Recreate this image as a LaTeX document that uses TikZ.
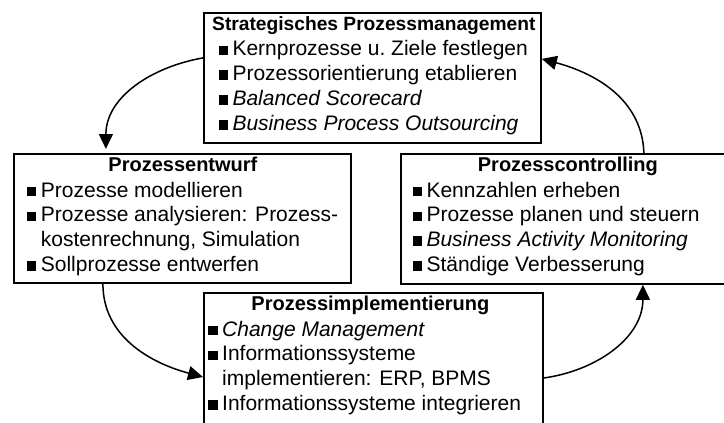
\documentclass[tikz,border=0pt]{standalone}
\usepackage{fontspec}
\setmainfont{Liberation Sans}
\usetikzlibrary{arrows.meta}
% square list marker followed by a small gap (a kern, so the cell keeps it)
\newcommand{\blt}{\rule[0.8pt]{9.5pt}{9.5pt}\kern4.5pt}
\begin{document}
\begin{tikzpicture}[x=1pt,y=-1pt,
  box/.style={draw, line width=1.8pt, rectangle, inner sep=0pt, anchor=north west},
  ttl/.style={anchor=base, inner sep=0pt, font=\fontsize{20}{24.8}\selectfont\bfseries},
  items/.style={anchor=base west, inner sep=0pt, align=left, font=\fontsize{21}{24.8}\selectfont},
  flow/.style={line width=1.5pt, -{Triangle[length=15pt,width=14pt]}}]
\fill[white] (0,0) rectangle (724,423);
\useasboundingbox (0,0) rectangle (724,423);

% the four phase boxes
\node[box, minimum width=337pt, minimum height=130pt] (strat) at (203,12) {};
\node[box, minimum width=337pt, minimum height=129pt] (entw) at (13,153) {};
\node[box, minimum width=334pt, minimum height=130pt] (contr) at (400,153) {};
\node[box, minimum width=339pt, minimum height=145pt] (impl) at (203,292) {};

% headings
\node[ttl, font=\fontsize{19.2}{24.8}\selectfont\bfseries] (stratT) at ([xshift=1.5pt,yshift=-18.5pt]strat.north) {Strategisches Prozessmanagement};
\node[ttl] (entwT) at ([xshift=0.5pt,yshift=-18.5pt]entw.north) {Prozessentwurf};
\node[ttl] (contrT) at ([yshift=-18.5pt]contr.north) {Prozesscontrolling};
\node[ttl] (implT) at ([xshift=-3pt,yshift=-18.5pt]impl.north) {Prozessimplementierung};

% bullet lists
\node[items] (stratL) at ([xshift=15.3pt,yshift=-44pt]strat.north west)
  {\begin{tabular}[t]{@{}l@{}l@{}}
   \blt & Kernprozesse u.\ Ziele festlegen\\
   \blt & Prozessorientierung etablieren\\
   \blt & \textit{Balanced Scorecard}\\
   \blt & \textit{Business Process Outsourcing}
   \end{tabular}};
\node[items] (entwL) at ([xshift=13.7pt,yshift=-44pt]entw.north west)
  {\begin{tabular}[t]{@{}l@{}l@{}}
   \blt & Prozesse modellieren\\
   \blt & Prozesse analysieren: Prozess-\\
        & kostenrechnung, Simulation\\
   \blt & Sollprozesse entwerfen
   \end{tabular}};
\node[items] (contrL) at ([xshift=12.3pt,yshift=-44pt]contr.north west)
  {\begin{tabular}[t]{@{}l@{}l@{}}
   \blt & Kennzahlen erheben\\
   \blt & Prozesse planen und steuern\\
   \blt & \textit{Business Activity Monitoring}\\
   \blt & Ständige Verbesserung
   \end{tabular}};
\node[items] (implL) at ([xshift=5pt,yshift=-44pt]impl.north west)
  {\begin{tabular}[t]{@{}l@{}l@{}}
   \blt & \textit{Change Management}\\
   \blt & Informationssysteme\\
        & implementieren: ERP, BPMS\\
   \blt & Informationssysteme integrieren
   \end{tabular}};

% cycle arrows
\draw[flow] ([yshift=20pt]strat.west) to[out=190,in=90] ([xshift=-76.5pt,yshift=4pt]entw.north);
\draw[flow] ([xshift=-79.5pt]entw.south) to[out=-90,in=165] ([yshift=-85pt]impl.north west);
\draw[flow] ([yshift=-86pt]impl.north east) to[out=8,in=-90] ([xshift=75pt]contr.south);
\draw[flow] ([xshift=76pt]contr.north) to[out=92,in=-15] ([yshift=19pt]strat.east);
\end{tikzpicture}
\end{document}
